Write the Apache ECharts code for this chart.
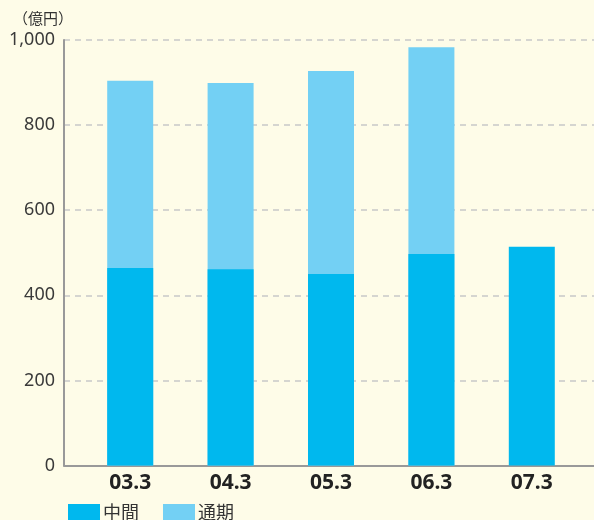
<!DOCTYPE html>
<html>
<head>
<meta charset="utf-8">
<script src="https://cdn.jsdelivr.net/npm/echarts@6/dist/echarts.min.js"></script>
<style>
html,body{margin:0;padding:0;background:#FEFCE8;}
#chart{width:594px;height:520px;}
</style>
</head>
<body>
<div id="chart"></div>
<script>
const categories = ['03.3', '04.3', '05.3', '06.3', '07.3'];
const interimValues = [464, 461, 450, 497, 514];
const fullYearValues = [904, 899, 927, 983, null];
const yTicks = [0, 200, 400, 600, 800, 1000];

const chart = echarts.init(document.getElementById('chart'));
const fontFamily = '"Noto Sans CJK JP", "Noto Sans", sans-serif';
chart.setOption({
  backgroundColor: '#FEFCE8',
  animation: false,
  title: {
    text: '（億円）',
    left: 8, top: 6,
    textStyle: { fontSize: 15, fontWeight: 'normal', color: '#333', fontFamily: fontFamily }
  },
  legend: {
    data: ['中間', '通期'],
    left: 68, top: 503, padding: 0,
    itemWidth: 32, itemHeight: 16, itemGap: 24,
    icon: 'rect',
    textStyle: { fontSize: 18, color: '#333', fontFamily: fontFamily, padding: [0, 0, 0, -2] }
  },
  grid: [
    { left: 64, right: 0, top: 40, bottom: 54.5 },
    { left: 80, right: 12, top: 40, bottom: 54.5 }
  ],
  xAxis: [
    {
      type: 'category', gridIndex: 0, data: categories,
      axisLine: { show: true, lineStyle: { color: '#999', width: 2 } },
      axisTick: { show: false }, axisLabel: { show: false }, splitLine: { show: false }
    },
    {
      type: 'category', gridIndex: 1, data: categories,
      axisLine: { show: false }, axisTick: { show: false },
      axisLabel: { fontSize: 21, fontWeight: 'bold', color: '#222', margin: 7, fontFamily: '"Noto Sans", sans-serif' }
    }
  ],
  yAxis: [
    {
      type: 'value', gridIndex: 0, min: yTicks[0], max: yTicks[yTicks.length - 1], interval: 200,
      axisLine: { show: true, lineStyle: { color: '#999', width: 2 } },
      axisTick: { show: false },
      axisLabel: {
        fontSize: 18, color: '#3a3a3a', margin: 9, fontFamily: '"Noto Sans", sans-serif',
        formatter: v => v.toLocaleString('en-US')
      },
      splitLine: { show: true, lineStyle: { color: '#c8c8c8', type: [6, 5], width: 1.5 } }
    },
    {
      type: 'value', gridIndex: 1, min: yTicks[0], max: yTicks[yTicks.length - 1], interval: 200,
      show: false, splitLine: { show: false }
    }
  ],
  series: [
    {
      name: '通期', type: 'bar', xAxisIndex: 1, yAxisIndex: 1,
      data: fullYearValues, barWidth: 46,
      itemStyle: { color: '#73D0F4' }
    },
    {
      name: '中間', type: 'bar', xAxisIndex: 1, yAxisIndex: 1,
      data: interimValues, barWidth: 46, barGap: '-100%',
      itemStyle: { color: '#00B8EE' }
    }
  ]
});
</script>
</body>
</html>
